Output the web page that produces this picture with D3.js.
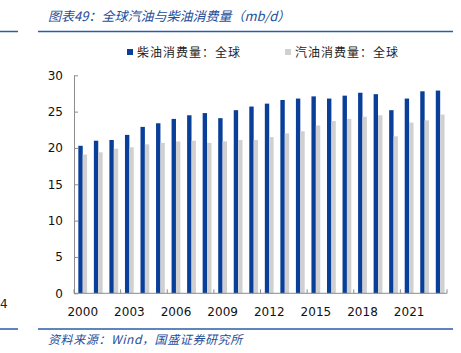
<!DOCTYPE html>
<html><head><meta charset="utf-8">
<script src="https://cdn.jsdelivr.net/npm/d3@7/dist/d3.min.js"></script>
<style>
html,body{margin:0;padding:0;background:#fff;}
svg{display:block;}
</style></head>
<body>
<script>
const years = [2000,2001,2002,2003,2004,2005,2006,2007,2008,2009,2010,2011,2012,2013,2014,2015,2016,2017,2018,2019,2020,2021,2022,2023];
const diesel = [20.3,21.0,21.1,21.8,22.9,23.4,24.0,24.5,24.8,24.1,25.2,25.7,26.1,26.6,26.8,27.1,26.8,27.2,27.6,27.4,25.2,26.8,27.8,27.9];
const gasoline = [19.1,19.4,19.9,20.1,20.5,20.7,20.9,21.0,20.7,20.9,21.1,21.1,21.5,22.0,22.3,23.1,23.7,24.0,24.3,24.5,21.6,23.5,23.8,24.6];
const seriesNames = ["柴油消费量：全球","汽油消费量：全球"];
const seriesColors = ["#0a3f99","#d0d0d0"];
const yTicks = [0,5,10,15,20,25,30];
const xLabelYears = [2000,2003,2006,2009,2012,2015,2018,2021];
const title = "图表49：全球汽油与柴油消费量（mb/d）";
const source = "资料来源：Wind，国盛证券研究所";

const W = 461, H = 353;
const svg = d3.select("body").append("svg").attr("width", W).attr("height", H);
const cjk = "'Noto Sans CJK SC', sans-serif";
const num = "'DejaVu Sans', Verdana, sans-serif";
const blueLine = "#2a5caa";

// Title
svg.append("text").attr("x", 48).attr("y", 21).text(title)
  .attr("font-family", cjk).attr("font-size", 13).attr("font-style", "italic")
  .attr("fill", "#1f4e9a");
svg.append("line").attr("x1", 38).attr("x2", 453).attr("y1", 31.5).attr("y2", 31.5)
  .attr("stroke", blueLine).attr("stroke-width", 1.5);
svg.append("line").attr("x1", 0).attr("x2", 18).attr("y1", 31.5).attr("y2", 31.5)
  .attr("stroke", blueLine).attr("stroke-width", 1.5);

// Footer
svg.append("line").attr("x1", 38).attr("x2", 453).attr("y1", 329).attr("y2", 329)
  .attr("stroke", blueLine).attr("stroke-width", 1.5);
svg.append("line").attr("x1", 0).attr("x2", 18).attr("y1", 329).attr("y2", 329)
  .attr("stroke", blueLine).attr("stroke-width", 1.5);
svg.append("text").attr("x", 48).attr("y", 344).text(source)
  .attr("font-family", cjk).attr("font-size", 12).attr("font-style", "italic")
  .attr("letter-spacing", 0.6).attr("fill", "#1f4e9a");
svg.append("text").attr("x", 0).attr("y", 308).text("4")
  .attr("font-family", num).attr("font-size", 12).attr("fill", "#222");

// Scales
const x = d3.scaleBand().domain(years).range([74, 447]).paddingInner(0).paddingOuter(0);
const x1 = d3.scaleBand().domain([0,1]).range([0, x.bandwidth()]).paddingInner(0).paddingOuter(0.77).align(0.64);
const y = d3.scaleLinear().domain([0, 30]).range([293.3, 75.3]);

// Bars
const data = years.map((yr, i) => ({yr, vals: [diesel[i], gasoline[i]]}));
const g = svg.append("g");
data.forEach(d => {
  d.vals.forEach((v, k) => {
    g.append("rect")
      .attr("x", x(d.yr) + x1(k))
      .attr("width", x1.bandwidth())
      .attr("y", y(v))
      .attr("height", y(0) - y(v))
      .attr("fill", seriesColors[k]);
  });
});

// Y axis
const yAxis = d3.axisLeft(y).tickValues(yTicks).tickSizeInner(-4).tickSizeOuter(0).tickPadding(11);
const ya = svg.append("g").attr("transform", "translate(74,0)").call(yAxis);
ya.select(".domain").attr("stroke", "#8c8c8c");
ya.selectAll(".tick line").attr("stroke", "#8c8c8c");
ya.selectAll("text").attr("font-family", num).attr("font-size", 12).attr("fill", "#111");

// X axis
const xa = svg.append("g");
xa.append("line").attr("x1", x.range()[0]).attr("x2", x.range()[1])
  .attr("y1", y(0)).attr("y2", y(0)).attr("stroke", "#8c8c8c");
const tickPos = xLabelYears.map(yr => x(yr)).concat([x.range()[1]]);
tickPos.forEach(p => {
  xa.append("line").attr("x1", p).attr("x2", p).attr("y1", y(0)).attr("y2", y(0) - 4)
    .attr("stroke", "#8c8c8c");
});
xLabelYears.forEach(yr => {
  xa.append("text").attr("x", x(yr) + x.bandwidth() / 2 + 1).attr("y", 316)
    .attr("text-anchor", "middle").text(yr)
    .attr("font-family", num).attr("font-size", 12).attr("fill", "#111");
});

// Legend
const legendX = [127, 285];
seriesNames.forEach((n, k) => {
  svg.append("rect").attr("x", legendX[k]).attr("y", 49).attr("width", 6).attr("height", 6)
    .attr("fill", seriesColors[k]);
  svg.append("text").attr("x", legendX[k] + 10).attr("y", 57).text(n)
    .attr("font-family", cjk).attr("font-size", 12).attr("letter-spacing", 1)
    .attr("fill", "#222");
});
</script>
</body></html>
